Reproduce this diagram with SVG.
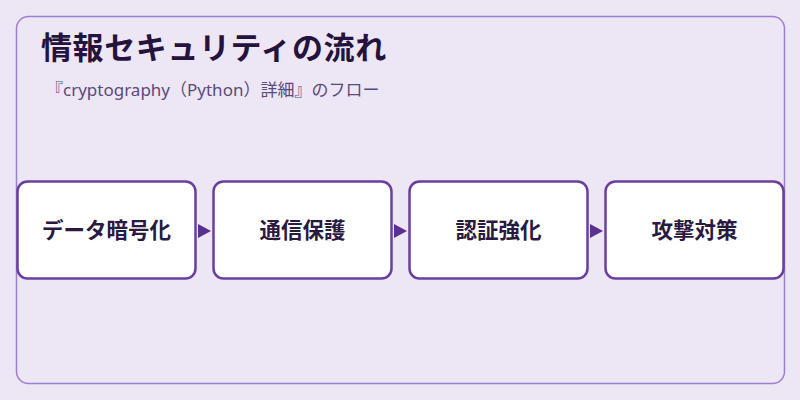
<svg xmlns="http://www.w3.org/2000/svg" width="800" height="400" viewBox="0 0 800 400">
<defs>
<style>
.node rect{fill:#ffffff;stroke:#6a3fa0;stroke-width:2.5}
.node text{font-family:"Liberation Sans","Noto Sans CJK JP",sans-serif;font-size:21.5px;font-weight:bold;fill:#2a1a40;text-anchor:middle;dominant-baseline:central}
.title{font-family:"Liberation Sans","Noto Sans CJK JP",sans-serif;font-size:31px;font-weight:bold;fill:#24133d;letter-spacing:0.6px}
.sub{font-family:"Noto Sans","Noto Sans CJK JP",sans-serif;font-size:17px;fill:#5a4a7a}
.conn path{fill:#5a3090}
</style>
</defs>
<rect x="0" y="0" width="800" height="400" fill="#ede6f5"/>
<rect x="16.5" y="16.5" width="768" height="367" rx="12" fill="#ede6f5" stroke="#9b7fd0" stroke-width="1.5"/>
<text class="title" x="41" y="59">情報セキュリティの流れ</text>
<text class="sub" x="46" y="96">『cryptography（Python）詳細』のフロー</text>
<g id="node1" class="node"><rect x="17.5" y="181.5" width="178" height="97" rx="10"/><text x="106.5" y="231">データ暗号化</text></g>
<g id="node2" class="node"><rect x="213.5" y="181.5" width="178" height="97" rx="10"/><text x="302.5" y="231">通信保護</text></g>
<g id="node3" class="node"><rect x="409.5" y="181.5" width="178" height="97" rx="10"/><text x="498.5" y="231">認証強化</text></g>
<g id="node4" class="node"><rect x="605.5" y="181.5" width="178" height="97" rx="10"/><text x="694.5" y="231">攻撃対策</text></g>
<g id="connectors" class="conn">
<path d="M198,224 L211,231 L198,238 Z"/>
<path d="M394,224 L407,231 L394,238 Z"/>
<path d="M590,224 L603,231 L590,238 Z"/>
</g>
</svg>
